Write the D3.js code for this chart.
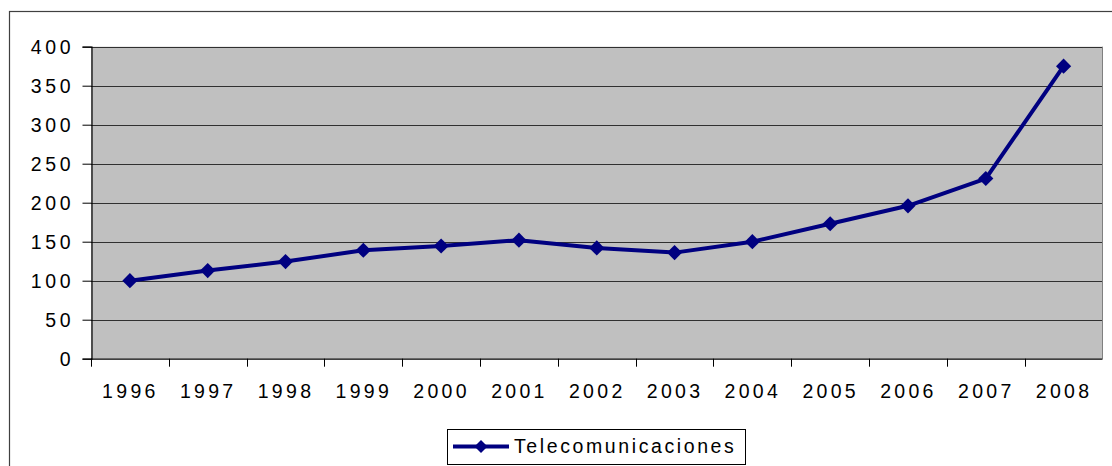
<!DOCTYPE html>
<html>
<head>
<meta charset="utf-8">
<script src="https://cdn.jsdelivr.net/npm/d3@7"></script>
<style>
  html, body { margin: 0; padding: 0; background: #fff; }
  svg { display: block; }
  text { font-family: "Liberation Sans", Arial, sans-serif; fill: #000; }
</style>
</head>
<body>
<script>
const years = ["1996","1997","1998","1999","2000","2001","2002","2003","2004","2005","2006","2007","2008"];
const telecom = [100, 113, 124.5, 139, 144.5, 152, 142, 136, 150, 173, 196, 231, 375];
const seriesName = "Telecomunicaciones";
const yTicks = [0, 50, 100, 150, 200, 250, 300, 350, 400];

const W = 1112, H = 466;
const plot = { left: 91, right: 1102.5, top: 46.7, bottom: 358.7 };

const svg = d3.select("body").append("svg").attr("width", W).attr("height", H);

// outer chart border
svg.append("rect")
  .attr("x", 9.5).attr("y", 11.5)
  .attr("width", W + 10).attr("height", H + 10)
  .attr("fill", "#fff").attr("stroke", "#404040").attr("stroke-width", 1.2);

const x = d3.scaleBand().domain(years).range([plot.left, plot.right]);
const y = d3.scaleLinear().domain([0, 400]).range([plot.bottom, plot.top]);

// plot area background
svg.append("rect")
  .attr("x", plot.left).attr("y", plot.top)
  .attr("width", plot.right - plot.left).attr("height", plot.bottom - plot.top)
  .attr("fill", "#c0c0c0");

// gridlines
svg.append("g").selectAll("line").data(yTicks.filter(d => d > 0)).join("line")
  .attr("x1", plot.left).attr("x2", plot.right)
  .attr("y1", d => Math.round(y(d)) + 0.5).attr("y2", d => Math.round(y(d)) + 0.5)
  .attr("stroke", "#303030").attr("stroke-width", 1);

// right plot border (gray)
svg.append("line")
  .attr("x1", plot.right).attr("x2", plot.right)
  .attr("y1", plot.top).attr("y2", plot.bottom)
  .attr("stroke", "#808080").attr("stroke-width", 1);

// y axis
const yAxis = d3.axisLeft(y).tickValues(yTicks).tickSize(9).tickPadding(12);
const gy = svg.append("g").attr("transform", `translate(${plot.left + 0.5},0)`).call(yAxis);
gy.select(".domain").attr("stroke", "#000").attr("stroke-width", 1.2);
gy.selectAll(".tick line").attr("stroke", "#000");
gy.selectAll(".tick text")
  .style("font-family", '"Liberation Sans", Arial, sans-serif')
  .style("font-size", "19.5px").style("letter-spacing", "3.6px")
  .attr("dx", "3.6px").attr("dy", "0.36em").attr("fill", "#000");

// x axis (ticks at band boundaries)
const boundaries = years.map(d => x(d));
svg.append("line")
  .attr("x1", plot.left).attr("x2", plot.right)
  .attr("y1", plot.bottom + 0.5).attr("y2", plot.bottom + 0.5)
  .attr("stroke", "#000").attr("stroke-width", 1.2);
svg.append("g").selectAll("line").data(boundaries).join("line")
  .attr("x1", d => Math.round(d) + 0.5).attr("x2", d => Math.round(d) + 0.5)
  .attr("y1", plot.bottom).attr("y2", plot.bottom + 8)
  .attr("stroke", "#000").attr("stroke-width", 1);
svg.append("g").selectAll("text").data(years).join("text")
  .attr("x", d => x(d) + x.bandwidth() / 2 + 0.5)
  .attr("y", 392.5)
  .attr("text-anchor", "middle")
  .attr("dominant-baseline", "middle")
  .style("font-size", "19.5px").style("letter-spacing", "3.3px")
  .text(d => d);

// line
const line = d3.line().x((d, i) => x(years[i]) + x.bandwidth() / 2).y(d => y(d));
svg.append("path").datum(telecom)
  .attr("d", line)
  .attr("fill", "none").attr("stroke", "#000080").attr("stroke-width", 4)
  .attr("stroke-linejoin", "round");

// markers
const diamond = d3.symbol().type(d3.symbolSquare).size(115);
svg.append("g").selectAll("path").data(telecom).join("path")
  .attr("d", diamond)
  .attr("transform", (d, i) => `translate(${x(years[i]) + x.bandwidth() / 2},${y(d)}) rotate(45)`)
  .attr("fill", "#000080");

// legend
const lg = svg.append("g");
lg.append("rect")
  .attr("x", 447.5).attr("y", 429.5).attr("width", 298).attr("height", 35)
  .attr("fill", "#fff").attr("stroke", "#000").attr("stroke-width", 1);
lg.append("line")
  .attr("x1", 453).attr("x2", 509).attr("y1", 446.5).attr("y2", 446.5)
  .attr("stroke", "#000080").attr("stroke-width", 4);
lg.append("path")
  .attr("d", d3.symbol().type(d3.symbolSquare).size(85))
  .attr("transform", "translate(481,446.5) rotate(45)")
  .attr("fill", "#000080");
lg.append("text")
  .attr("x", 514).attr("y", 447.5)
  .attr("dominant-baseline", "middle")
  .style("font-size", "19.5px").style("letter-spacing", "2.6px")
  .text(seriesName);
</script>
</body>
</html>
